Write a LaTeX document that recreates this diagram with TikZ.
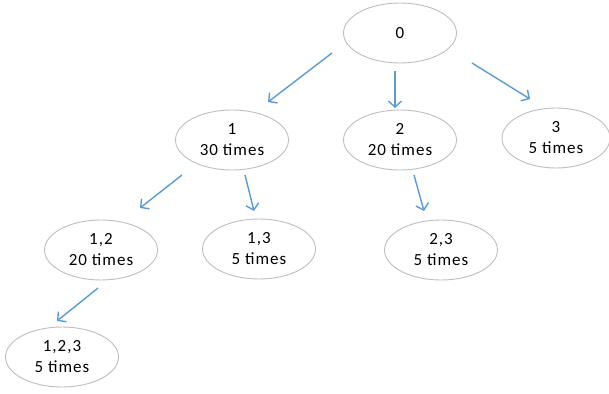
\documentclass[tikz,border=0pt]{standalone}
\usepackage{fontspec}
\setmainfont{Carlito}[LetterSpace=6]
\usetikzlibrary{shapes.geometric,arrows.meta}
\definecolor{arrowblue}{HTML}{5B9BD5}
\definecolor{edgegray}{HTML}{BEBEBE}
\tikzset{
  state/.style={ellipse, draw=edgegray, line width=0.9pt, fill=white,
    minimum width=113pt, minimum height=60pt, inner sep=0pt,
    font=\fontsize{17}{21}\selectfont, align=center},
  link/.style={draw=arrowblue, line width=1.4pt,
    -{Straight Barb[length=6pt,width=13pt,line width=1.4pt]}}
}
\begin{document}
\begin{tikzpicture}[x=1pt,y=-1pt]
\useasboundingbox (0,0) rectangle (609,393);
\node[state] (n0) at (400,33) {0};
\node[state] (n1) at (232,140) {1\\30 times};
\node[state] (n2) at (400,140) {2\\20 times};
\node[state, minimum width=108pt] (n3) at (556,138) {3\\5 times};
\node[state] (n12) at (101,250) {1,2\\20 times};
\node[state] (n13) at (259,249) {1,3\\5 times};
\node[state] (n23) at (441,250) {2,3\\5 times};
\node[state] (n123) at (62,357) {1,2,3\\5 times};
\coordinate (a0s) at (332,53);  \coordinate (a0e) at (268,102);
\coordinate (b0s) at (395,71);  \coordinate (b0e) at (395,108);
\coordinate (c0s) at (472,63);  \coordinate (c0e) at (530,99);
\coordinate (a1s) at (182,175); \coordinate (a1e) at (140,208);
\coordinate (b1s) at (245,175); \coordinate (b1e) at (254,211);
\coordinate (a2s) at (414,175); \coordinate (a2e) at (424,211);
\coordinate (a12s) at (98,288); \coordinate (a12e) at (57,321);
\draw[link] (a0s) -- (a0e);
\draw[link] (b0s) -- (b0e);
\draw[link] (c0s) -- (c0e);
\draw[link] (a1s) -- (a1e);
\draw[link] (b1s) -- (b1e);
\draw[link] (a2s) -- (a2e);
\draw[link] (a12s) -- (a12e);
\end{tikzpicture}
\end{document}
